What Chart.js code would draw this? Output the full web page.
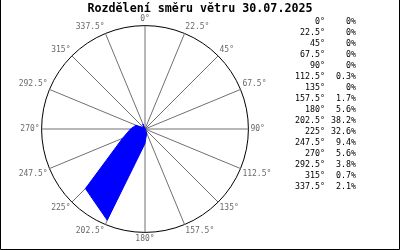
<!DOCTYPE html>
<html>
<head>
<meta charset="utf-8">
<script src="https://cdn.jsdelivr.net/npm/chart.js@4"></script>
<style>
  html, body { margin: 0; padding: 0; background: #fff; }
  canvas { display: block; }
</style>
</head>
<body>
<canvas id="rose" width="400" height="250"></canvas>
<script>
// wind direction histogram for one day
const titleText = 'Rozdělení směru větru 30.07.2025';
const directions = ['0°', '22.5°', '45°', '67.5°', '90°', '112.5°', '135°', '157.5°',
                    '180°', '202.5°', '225°', '247.5°', '270°', '292.5°', '315°', '337.5°'];
const percents = [0, 0, 0, 0, 0, 0.3, 0, 1.7, 5.6, 38.2, 32.6, 9.4, 5.6, 3.8, 0.7, 2.1];
const scaleMax = 40;

const mono = "'DejaVu Sans Mono', 'Liberation Mono', monospace";

// title over the full width, table of values on the right, frame
const sidePanel = {
  id: 'sidePanel',
  afterDraw(chart) {
    const ctx = chart.ctx;
    ctx.save();
    ctx.fillStyle = '#000';
    ctx.textBaseline = 'middle';
    ctx.textAlign = 'center';
    ctx.font = 'bold 11.7px ' + mono;
    ctx.fillText(titleText, 200, 9);

    ctx.font = '8.3px ' + mono;
    ctx.textAlign = 'right';
    directions.forEach((d, i) => {
      const y = 22 + i * 11;
      ctx.fillText(d, 325, y);
      ctx.fillText(percents[i] + '%', 356, y);
    });
    ctx.strokeStyle = '#000';
    ctx.lineWidth = 1;
    ctx.beginPath();
    ctx.moveTo(0.5, 0);
    ctx.lineTo(0.5, 249.5);
    ctx.lineTo(399.5, 249.5);
    ctx.lineTo(399.5, 0);
    ctx.stroke();
    ctx.restore();
  }
};

new Chart(document.getElementById('rose'), {
  type: 'radar',
  data: {
    labels: directions,
    datasets: [{
      data: percents,
      backgroundColor: '#0000ff',
      borderColor: '#0000ff',
      borderWidth: 1,
      pointRadius: 0,
      fill: true,
      tension: 0
    }]
  },
  options: {
    responsive: false,
    animation: false,
    layout: { padding: { left: 0, right: 110, top: 15, bottom: 5 } },
    scales: {
      r: {
        min: 0,
        max: scaleMax,
        ticks: { display: false, stepSize: scaleMax },
        grid: { circular: true, color: '#000', lineWidth: 1 },
        angleLines: { color: '#707070', lineWidth: 1 },
        pointLabels: {
          color: '#6a6a6a',
          padding: 2,
          font: { family: mono, size: 8 }
        }
      }
    },
    plugins: {
      legend: { display: false },
      tooltip: { enabled: false },
      title: { display: false }
    }
  },
  plugins: [sidePanel]
});
</script>
</body>
</html>
